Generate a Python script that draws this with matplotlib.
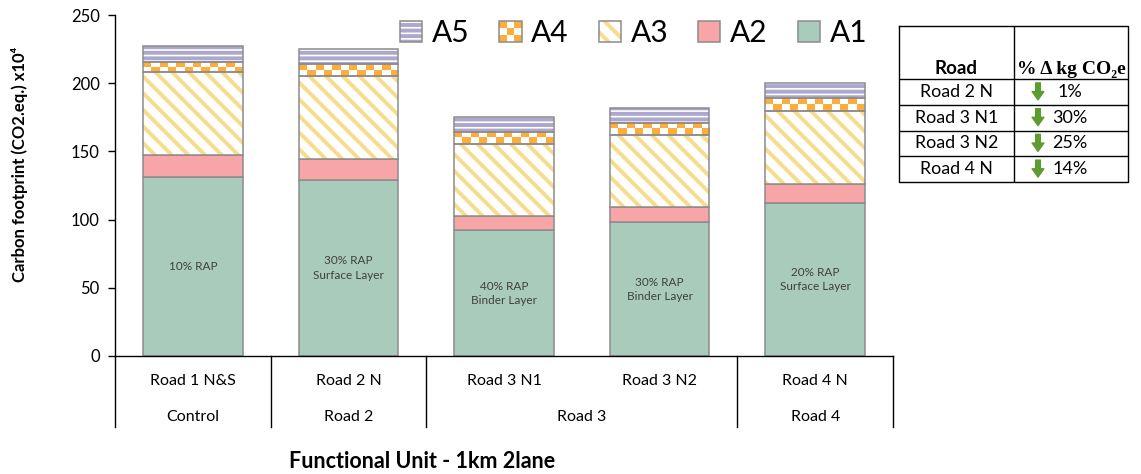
import numpy as np
import matplotlib
matplotlib.use("Agg")
import matplotlib.pyplot as plt
from matplotlib.patches import Patch, Rectangle, FancyArrowPatch
from matplotlib.legend_handler import HandlerBase, HandlerTuple

plt.rcParams['font.family'] = ['Lato', 'DejaVu Sans']
plt.rcParams['hatch.linewidth'] = 2.8

# carbon footprint per stage (CO2 eq. x10^4), functional unit 1km 2 lane
roads = ['Road 1 N&S', 'Road 2 N', 'Road 3 N1', 'Road 3 N2', 'Road 4 N']
groups = ['Control', 'Road 2', 'Road 3', 'Road 4']
group_first = [0, 1, 2, 4]
group_last = [0, 1, 3, 4]
a1 = [131.0, 129.0, 92.2, 97.9, 112.5]
a2 = [16.3, 15.3, 10.5, 11.4, 13.8]
a3 = [61.1, 61.2, 52.6, 52.6, 53.1]
a4 = [7.3, 8.5, 9.1, 9.1, 9.9]
a5 = [11.8, 11.0, 10.5, 10.5, 10.5]
rap_notes = ['10% RAP', '30% RAP\nSurface Layer', '40% RAP\nBinder Layer',
             '30% RAP\nBinder Layer', '20% RAP\nSurface Layer']

table_roads = ['Road 2 N', 'Road 3 N1', 'Road 3 N2', 'Road 4 N']
table_pct = [1, 30, 25, 14]

green = '#A9CBBC'
pink = '#F7A5A6'
yellow = '#F7DC8E'
orange = '#FFAD3A'
lavender = '#ACA7CC'
edge = '#8C8C8C'
arrow_green = '#5E9C32'

W, H = 1141, 474
fig = plt.figure(figsize=(W / 100, H / 100), dpi=100)
ax = fig.add_axes([115 / W, 1 - 356 / H, (893 - 115) / W, (356 - 15) / H])

x = np.arange(len(roads))
bw = 0.64
a1 = np.array(a1); a2 = np.array(a2); a3 = np.array(a3); a4 = np.array(a4); a5 = np.array(a5)
b2 = a1
b3 = b2 + a2
b4 = b3 + a3
b5 = b4 + a4

ax.bar(x, a1, bw, color=green, edgecolor=edge, linewidth=1.1, zorder=2)
ax.bar(x, a2, bw, bottom=b2, color=pink, edgecolor=edge, linewidth=1.1, zorder=2)
# hatched stages: white fill, hatch in the edge colour, outline drawn on top
ax.bar(x, a3, bw, bottom=b3, color='white', edgecolor=yellow, hatch='\\\\', linewidth=0, zorder=2)
ax.bar(x, a3, bw, bottom=b3, fill=False, edgecolor=edge, linewidth=1.1, zorder=4)
ax.bar(x, a4, bw, bottom=b4, color='white', linewidth=0, zorder=2)
checker = np.ones((2, 12, 4))
checker[(np.add.outer(np.arange(2), np.arange(12)) % 2) == 0] = matplotlib.colors.to_rgba(orange)
for xi, bot, h in zip(x, b4, a4):
    ax.imshow(checker, extent=(xi - bw / 2, xi + bw / 2, bot, bot + h),
              aspect='auto', interpolation='nearest', zorder=3)
ax.bar(x, a4, bw, bottom=b4, fill=False, edgecolor=edge, linewidth=1.1, zorder=4)
ax.bar(x, a5, bw, bottom=b5, color='white', edgecolor=lavender, hatch='---', linewidth=0, zorder=2)
ax.bar(x, a5, bw, bottom=b5, fill=False, edgecolor=edge, linewidth=1.1, zorder=4)

for xi, h, note in zip(x, a1, rap_notes):
    ax.text(xi, h / 2, note, ha='center', va='center', fontsize=8.5, color='#404040',
            linespacing=1.35, zorder=5)

ax.set_xlim(-0.5, len(roads) - 0.5)
ax.set_ylim(0, 250)
ax.set_yticks(np.arange(0, 251, 50))
ax.tick_params(axis='y', direction='out', length=5, width=1, labelsize=12, pad=6)
ax.set_xticks([])
for s in ['top', 'right']:
    ax.spines[s].set_visible(False)
ax.spines['left'].set_color('black')
ax.spines['bottom'].set_color('black')
ax.spines['left'].set_linewidth(1)
ax.spines['bottom'].set_linewidth(1)

# two level category axis
tr = ax.get_xaxis_transform()
for xi, name in zip(x, roads):
    ax.text(xi, -0.073, name, transform=tr, ha='center', va='center', fontsize=11.5)
for name, first, last in zip(groups, group_first, group_last):
    ax.text((first + last) / 2, -0.179, name, transform=tr, ha='center', va='center', fontsize=11.5)
    ax.plot([first - 0.5, first - 0.5], [0, -0.208], transform=tr, color='black', lw=1, clip_on=False)
ax.plot([len(roads) - 0.5] * 2, [0, -0.208], transform=tr, color='black', lw=1, clip_on=False)

fig.text(20 / W, 1 - 164 / H, 'Carbon footprint (CO2.eq.) x10\u2074', rotation=90,
         ha='center', va='center', fontsize=12, fontweight='bold')
fig.text(422 / W, 1 - 461 / H, 'Functional Unit - 1km 2lane', ha='center', va='center',
         fontsize=15.5, fontweight='bold')


class Checker:
    pass


class CheckerHandler(HandlerBase):
    def create_artists(self, legend, orig_handle, xdescent, ydescent, width, height, fontsize, trans):
        x0, y0 = -xdescent, -ydescent
        arts = [Rectangle((x0, y0), width, height, facecolor='white', edgecolor='none', transform=trans)]
        n = 3
        for i in range(n):
            for j in range(n):
                if (i + j) % 2 == 0:
                    arts.append(Rectangle((x0 + j * width / n, y0 + i * height / n), width / n, height / n,
                                          facecolor=orange, edgecolor='none', transform=trans))
        arts.append(Rectangle((x0, y0), width, height, fill=False, edgecolor=edge, lw=1.1, transform=trans))
        return arts


def outline():
    return Patch(fill=False, edgecolor=edge, linewidth=1.1)


handles = [
    (Patch(facecolor='white', edgecolor=lavender, hatch='---', linewidth=0), outline()),
    Checker(),
    (Patch(facecolor='white', edgecolor=yellow, hatch='\\\\', linewidth=0), outline()),
    Patch(facecolor=pink, edgecolor=edge, linewidth=1.1),
    Patch(facecolor=green, edgecolor=edge, linewidth=1.1),
]
labels = ['A5', 'A4', 'A3', 'A2', 'A1']
fig.legend(handles, labels, loc='center left', bbox_to_anchor=(400 / W, 1 - 33 / H),
           ncol=5, frameon=False, fontsize=21.5, handlelength=0.74, handleheight=0.74,
           handletextpad=0.33, columnspacing=1.0, borderpad=0, borderaxespad=0,
           handler_map={tuple: HandlerTuple(ndivide=1), Checker: CheckerHandler()})

# summary table of reductions against the control road
tx0, ty0, tx1, ty1 = 899, 26, 1128, 182
tab = fig.add_axes([tx0 / W, 1 - ty1 / H, (tx1 - tx0) / W, (ty1 - ty0) / H])
tab.set_xlim(tx0, tx1)
tab.set_ylim(ty1, ty0)
tab.axis('off')
col_div = 1014
head_bottom = 79
row_h = (ty1 - head_bottom) / len(table_roads)
tab.plot([tx0, tx1, tx1, tx0, tx0], [ty0, ty0, ty1, ty1, ty0], color='black', lw=1, clip_on=False)
tab.plot([col_div, col_div], [ty0, ty1], color='black', lw=1)
for i in range(len(table_roads)):
    yl = head_bottom + i * row_h
    tab.plot([tx0, tx1], [yl, yl], color='black', lw=1)
tab.text((tx0 + col_div) / 2, 69, 'Road', ha='center', va='center', fontsize=13.5, fontweight='bold')
tab.text((col_div + tx1) / 2, 69, '% \u0394 kg CO\u2082e', ha='center', va='center', fontsize=14,
         fontweight='bold', family=['Liberation Serif', 'DejaVu Serif'])
for i, (name, pct) in enumerate(zip(table_roads, table_pct)):
    ym = head_bottom + (i + 0.5) * row_h
    tab.text((tx0 + col_div) / 2, ym, name, ha='center', va='center', fontsize=12.8)
    tab.add_patch(FancyArrowPatch((1038, ym - 9), (1038, ym + 8),
                                  arrowstyle='simple,head_width=0.85,head_length=0.6,tail_width=0.34',
                                  mutation_scale=10, color=arrow_green, shrinkA=0, shrinkB=0))
    tab.text(1070, ym, f'{pct}%', ha='center', va='center', fontsize=13)

fig.savefig('out.png', dpi=100)
